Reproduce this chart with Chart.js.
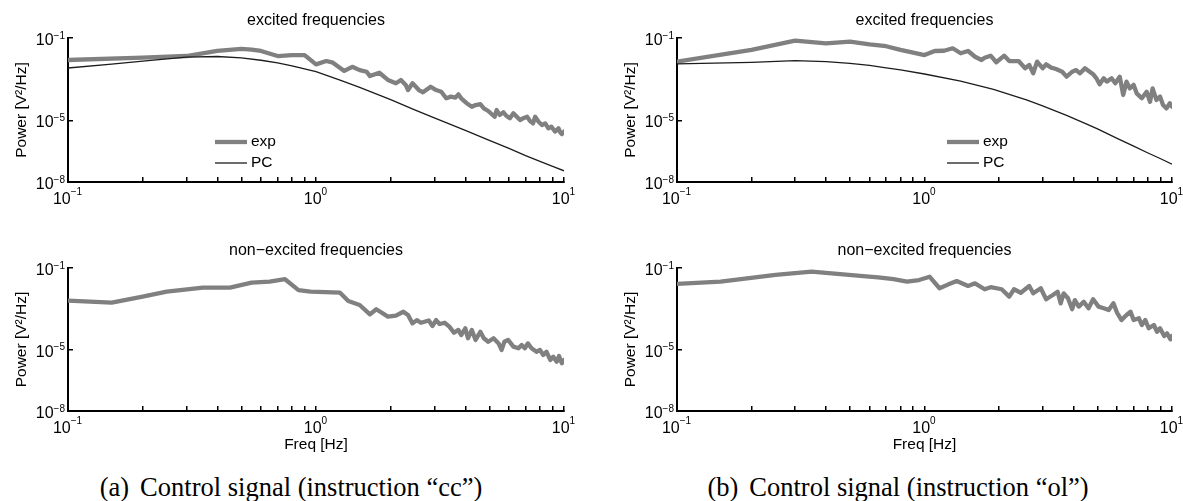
<!DOCTYPE html>
<html>
<head>
<meta charset="utf-8">
<script src="https://cdn.jsdelivr.net/npm/chart.js@4.4.1/dist/chart.umd.min.js"></script>
<style>
  body { margin: 0; background: #fff; width: 1183px; height: 501px; position: relative; overflow: hidden; }
  canvas { position: absolute; }
  .cap { position: absolute; top: 472px; line-height: 25px; font: 26.5px "Liberation Serif", "Times New Roman", serif;
         white-space: nowrap; transform: translateX(-50%); color: #000; }
  .cap b { font-weight: normal; margin-right: 11px; }
</style>
</head>
<body>
<canvas id="ccExc" width="590" height="230" style="left:0;top:0"></canvas>
<canvas id="olExc" width="593" height="230" style="left:590px;top:0"></canvas>
<canvas id="ccNon" width="590" height="230" style="left:0;top:230px"></canvas>
<canvas id="olNon" width="593" height="230" style="left:590px;top:230px"></canvas>
<div class="cap" style="left:291px"><b>(a)</b>Control signal (instruction “cc”)</div>
<div class="cap" style="left:898px"><b>(b)</b>Control signal (instruction “ol”)</div>

<script>
// axis ticks (only decades get a "10^n" label)
var FREQ_TICKS = [0.1, 0.2, 0.3, 0.4, 0.5, 0.6, 0.7, 0.8, 0.9, 1, 2, 3, 4, 5, 6, 7, 8, 9, 10];
var FREQ_DECADES = [0.1, 1, 10];
var POWER_TICKS = [1e-8, 1e-5, 1e-1];

// instruction "cc", excited frequencies: measured spectrum
var ccExcFreq = [0.1, 0.2, 0.3, 0.4, 0.5, 0.55, 0.6, 0.7, 0.8, 0.9,
  1.0, 1.1, 1.17, 1.3, 1.4, 1.5, 1.6, 1.65, 1.8, 1.95,
  2.1, 2.2, 2.3, 2.35, 2.45, 2.6, 2.7, 2.9, 3.05, 3.2,
  3.35, 3.5, 3.65, 3.75, 3.85, 4.05, 4.25, 4.4, 4.6, 4.75,
  4.95, 5.25, 5.35, 5.5, 5.7, 5.85, 6.05, 6.25, 6.45, 6.65,
  6.85, 7.1, 7.3, 7.5, 7.65, 7.9, 8.15, 8.4, 8.65, 8.9,
  9.2, 9.5, 9.65, 9.8, 10];
var ccExcPow = [8.5e-3, 1.12e-2, 1.33e-2, 2.34e-2, 2.95e-2, 2.75e-2, 2.34e-2, 1.33e-2, 1.48e-2, 1.48e-2,
  5.25e-3, 7.59e-3, 6.31e-3, 2.51e-3, 3.98e-3, 2.75e-3, 2.29e-3, 1.41e-3, 2.04e-3, 9.12e-4,
  6.31e-4, 9.12e-4, 5.25e-4, 2.95e-4, 6.31e-4, 2.95e-4, 2.29e-4, 4.27e-4, 2.95e-4, 2.45e-4,
  1.17e-4, 1.41e-4, 1.26e-4, 1.82e-4, 1.17e-4, 6.76e-5, 4.57e-5, 5.50e-5, 6.03e-5, 3.80e-5,
  2.82e-5, 1.48e-5, 3.16e-5, 1.82e-5, 2.45e-5, 1.66e-5, 1.26e-5, 2.19e-5, 1.48e-5, 1.02e-5,
  1.26e-5, 1.48e-5, 9.12e-6, 7.08e-6, 1.48e-5, 8.51e-6, 5.89e-6, 7.08e-6, 4.07e-6, 4.90e-6,
  2.82e-6, 4.07e-6, 2.63e-6, 2.14e-6, 2.82e-6];

// instruction "cc": PC model
var ccPcFreq = [0.1, 0.15, 0.2, 0.3, 0.4, 0.5, 0.6, 0.7, 0.8, 1, 1.25, 1.5, 2, 2.5, 3, 4, 5, 6, 7, 8, 9, 10];
var ccPcPow = [3.47e-3, 5.4e-3, 7.6e-3, 1.17e-2, 1.26e-2, 1.07e-2, 8.3e-3, 6.2e-3, 4.4e-3, 2.3e-3, 8.9e-4,
  4.0e-4, 1.0e-4, 3.2e-5, 1.3e-5, 3.2e-6, 1.05e-6, 4.3e-7, 1.9e-7, 1.0e-7, 5.8e-8, 3.5e-8];

// instruction "cc", non-excited frequencies
var ccNonFreq = [0.1, 0.15, 0.2, 0.25, 0.35, 0.45, 0.55, 0.65, 0.75, 0.85,
  0.95, 1.25, 1.35, 1.5, 1.65, 1.75, 1.95, 2.1, 2.25, 2.35,
  2.45, 2.55, 2.65, 2.85, 2.95, 3.05, 3.15, 3.3, 3.45, 3.6,
  3.75, 3.85, 4.0, 4.1, 4.25, 4.4, 4.6, 4.75, 4.95, 5.2,
  5.45, 5.6, 5.75, 5.95, 6.25, 6.55, 6.75, 6.95, 7.15, 7.4,
  7.75, 8.0, 8.25, 8.5, 8.8, 9.05, 9.35, 9.55, 9.8, 10];
var ccNonPow = [2.51e-3, 2.00e-3, 3.98e-3, 6.92e-3, 1.10e-2, 1.10e-2, 1.91e-2, 2.14e-2, 2.82e-2, 8.32e-3,
  6.92e-3, 6.17e-3, 2.40e-3, 1.55e-3, 5.37e-4, 9.55e-4, 4.17e-4, 4.68e-4, 7.24e-4, 5.01e-4,
  1.95e-4, 2.82e-4, 2.09e-4, 2.70e-4, 1.45e-4, 2.82e-4, 1.82e-4, 2.09e-4, 1.35e-4, 6.76e-5,
  9.33e-5, 5.25e-5, 1.12e-4, 3.63e-5, 9.33e-5, 3.02e-5, 7.59e-5, 3.63e-5, 2.45e-5, 3.63e-5,
  2.04e-5, 9.77e-6, 2.45e-5, 3.02e-5, 1.41e-5, 1.17e-5, 1.70e-5, 1.17e-5, 2.04e-5, 1.17e-5,
  7.94e-6, 9.77e-6, 5.50e-6, 7.94e-6, 3.16e-6, 4.57e-6, 2.57e-6, 4.90e-6, 2.19e-6, 3.16e-6];

// instruction "ol", excited frequencies: measured spectrum
var olExcFreq = [0.1, 0.2, 0.3, 0.4, 0.5, 0.6, 0.7, 0.8, 0.9, 1.0,
  1.1, 1.2, 1.3, 1.4, 1.5, 1.6, 1.7, 1.75, 1.85, 1.95,
  2.1, 2.2, 2.4, 2.55, 2.65, 2.75, 2.85, 3.0, 3.1, 3.25,
  3.4, 3.6, 3.75, 3.95, 4.1, 4.25, 4.45, 4.65, 4.8, 4.95,
  5.1, 5.3, 5.45, 5.7, 5.9, 6.15, 6.35, 6.55, 6.75, 7.0,
  7.2, 7.55, 7.9, 8.15, 8.35, 8.65, 8.95, 9.2, 9.5, 9.8, 10];
var olExcPow = [7.08e-3, 2.63e-2, 7.41e-2, 5.50e-2, 6.61e-2, 4.90e-2, 3.98e-2, 2.63e-2, 1.95e-2, 1.48e-2,
  2.34e-2, 2.40e-2, 3.16e-2, 1.82e-2, 2.34e-2, 1.23e-2, 8.51e-3, 1.10e-2, 1.38e-2, 6.61e-3,
  1.38e-2, 7.59e-3, 7.59e-3, 3.39e-3, 4.90e-3, 1.91e-3, 7.08e-3, 3.39e-3, 5.25e-3, 3.63e-3,
  3.09e-3, 2.29e-3, 1.32e-3, 2.29e-3, 2.75e-3, 1.91e-3, 3.39e-3, 2.29e-3, 1.74e-3, 1.10e-3,
  5.62e-4, 1.10e-3, 7.59e-4, 1.10e-3, 6.31e-4, 1.32e-3, 1.70e-4, 7.59e-4, 3.55e-4, 5.25e-4,
  2.04e-4, 1.17e-4, 2.45e-4, 7.94e-5, 3.55e-4, 9.77e-5, 1.41e-4, 5.50e-5, 3.80e-5, 6.76e-5, 4.57e-5];

// instruction "ol": PC model
var olPcFreq = [0.1, 0.2, 0.3, 0.4, 0.5, 0.6, 0.7, 0.8, 1.0, 1.4, 1.9, 2.6, 3.0, 3.75, 4.5, 5, 6, 7, 8, 9, 10];
var olPcPow = [5.50e-3, 6.5e-3, 7.94e-3, 7.08e-3, 5.89e-3, 4.68e-3, 3.55e-3, 2.82e-3, 1.78e-3, 7.94e-4,
  3.16e-4, 9.55e-5, 5.01e-5, 1.74e-5, 6.76e-6, 3.80e-6, 1.32e-6, 5.50e-7, 2.57e-7, 1.35e-7, 7.41e-8];

// instruction "ol", non-excited frequencies
var olNonFreq = [0.1, 0.15, 0.25, 0.35, 0.55, 0.65, 0.75, 0.85, 0.95, 1.05,
  1.15, 1.25, 1.35, 1.5, 1.6, 1.75, 1.85, 2.05, 2.2, 2.3,
  2.45, 2.65, 2.75, 2.95, 3.1, 3.3, 3.45, 3.55, 3.65, 3.8,
  3.95, 4.05, 4.2, 4.4, 4.6, 4.8, 5.05, 5.3, 5.55, 5.8,
  6.0, 6.25, 6.55, 6.8, 7.0, 7.35, 7.55, 7.8, 8.05, 8.45,
  8.7, 8.95, 9.3, 9.55, 9.85, 10];
var olNonPow = [1.66e-2, 2.14e-2, 4.57e-2, 6.61e-2, 4.07e-2, 3.47e-2, 2.82e-2, 2.14e-2, 2.57e-2, 3.72e-2,
  1.02e-2, 1.58e-2, 2.29e-2, 1.32e-2, 1.78e-2, 9.12e-3, 1.15e-2, 9.12e-3, 3.98e-3, 9.12e-3,
  6.17e-3, 1.32e-2, 5.75e-3, 1.02e-2, 2.95e-3, 4.79e-3, 6.92e-3, 1.86e-3, 5.75e-3, 3.31e-3,
  9.55e-4, 2.69e-3, 1.29e-3, 2.24e-3, 1.07e-3, 2.95e-3, 1.29e-3, 1.07e-3, 8.71e-4, 1.86e-3,
  6.46e-4, 2.82e-4, 5.01e-4, 7.24e-4, 2.82e-4, 3.47e-4, 1.62e-4, 2.82e-4, 1.12e-4, 1.62e-4,
  7.59e-5, 1.12e-4, 4.68e-5, 6.31e-5, 3.24e-5, 4.68e-5];

var FONT = '"Liberation Sans", Arial, Helvetica, sans-serif';
Chart.defaults.font.family = FONT;
Chart.defaults.font.size = 15;
Chart.defaults.color = '#000';

function pairs(xs, ys) {
    return xs.map(function (x, i) { return { x: x, y: ys[i] }; });
}

function expSet(xs, ys) {
    return { label: 'exp', data: pairs(xs, ys), borderColor: '#808080', borderWidth: 4.3,
             pointRadius: 0, tension: 0, borderJoinStyle: 'round', borderCapStyle: 'round', order: 1 };
}

function pcSet(xs, ys) {
    return { label: 'PC', data: pairs(xs, ys), borderColor: '#1c1c1c', borderWidth: 1.3,
             pointRadius: 0, tension: 0, order: 0 };
}

function expText(v) {
    var n = Math.round(Math.log10(v));
    return n < 0 ? '−' + (-n) : String(n);
}

// "10" with a raised exponent; (x, base) is the left end and the digit baseline
function powLabel(ctx, v, x, base, supBase) {
    ctx.font = '16px ' + FONT;
    ctx.fillText('10', x, base);
    var w = ctx.measureText('10').width;
    ctx.font = '10px ' + FONT;
    ctx.fillText(expText(v), x + w, supBase);
}

function powWidth(ctx, v) {
    ctx.font = '16px ' + FONT;
    var w = ctx.measureText('10').width;
    ctx.font = '10px ' + FONT;
    return w + ctx.measureText(expText(v)).width;
}

// tick labels, titles, axis labels and the small in-plot legend
var decor = {
    id: 'decor',
    afterDraw: function (chart, args, o) {
        var ctx = chart.ctx, a = chart.chartArea;
        var xs = chart.scales.x, ys = chart.scales.y;
        var cx = (a.left + a.right) / 2;
        ctx.save();
        ctx.fillStyle = '#000';
        ctx.textAlign = 'left';
        ctx.textBaseline = 'alphabetic';
        FREQ_DECADES.forEach(function (v) {
            var px = xs.getPixelForValue(v);
            var w = powWidth(ctx, v);
            powLabel(ctx, v, px - w / 2 - 0.5, a.bottom + 21.5, a.bottom + 13);
        });
        POWER_TICKS.forEach(function (v) {
            var py = ys.getPixelForValue(v);
            var w = powWidth(ctx, v);
            powLabel(ctx, v, a.left - 3 - w, py + 7, py + 0.5);
        });

        ctx.textAlign = 'center';
        ctx.textBaseline = 'middle';
        ctx.font = '16px ' + FONT;
        ctx.fillText(o.title, cx, a.top - 17);
        ctx.font = '15.5px ' + FONT;
        if (o.xlabel) ctx.fillText(o.xlabel, cx, a.bottom + 34);
        ctx.save();
        ctx.translate(a.left - 46, (a.top + a.bottom) / 2);
        ctx.rotate(-Math.PI / 2);
        ctx.fillText('Power [V²/Hz]', 0, 0);
        ctx.restore();

        if (o.legendX) {
            ctx.textAlign = 'left';
            chart.data.datasets.forEach(function (ds, i) {
                var y = a.top + 104 + i * 21;
                ctx.strokeStyle = ds.borderColor;
                ctx.lineWidth = ds.borderWidth;
                ctx.beginPath();
                ctx.moveTo(o.legendX, y);
                ctx.lineTo(o.legendX + 32, y);
                ctx.stroke();
                ctx.fillText(ds.label, o.legendX + 36, y);
            });
        }
        ctx.restore();
    }
};

function makeChart(id, datasets, opts) {
    new Chart(document.getElementById(id), {
        type: 'line',
        data: { datasets: datasets },
        plugins: [decor],
        options: {
            responsive: false,
            animation: false,
            devicePixelRatio: 1,
            layout: { padding: { top: 38, right: opts.padRight, left: 0, bottom: 0 } },
            plugins: {
                legend: { display: false },
                tooltip: { enabled: false },
                decor: { title: opts.title, xlabel: opts.xlabel, legendX: opts.legendX }
            },
            scales: {
                x: {
                    type: 'logarithmic', min: 0.1, max: 10,
                    afterBuildTicks: function (s) { s.ticks = FREQ_TICKS.map(function (v) { return { value: v }; }); },
                    afterFit: function (s) { s.height = opts.xHeight; s.paddingLeft = 0; s.paddingRight = 0; },
                    border: { display: true, color: '#000', width: 2 },
                    grid: { drawOnChartArea: false, drawTicks: true, tickLength: -5, color: '#000', lineWidth: 1.5 },
                    ticks: { display: false, autoSkip: false }
                },
                y: {
                    type: 'logarithmic', min: 1e-8, max: 1e-1,
                    afterBuildTicks: function (s) { s.ticks = POWER_TICKS.map(function (v) { return { value: v }; }); },
                    afterFit: function (s) { s.width = opts.yWidth; s.paddingTop = 0; s.paddingBottom = 0; },
                    border: { display: true, color: '#000', width: 2 },
                    grid: { drawOnChartArea: false, drawTicks: true, tickLength: -5, color: '#000', lineWidth: 1.5 },
                    ticks: { display: false, autoSkip: false }
                }
            }
        }
    });
}

makeChart('ccExc', [expSet(ccExcFreq, ccExcPow), pcSet(ccPcFreq, ccPcPow)],
    { title: 'excited frequencies', padRight: 26, yWidth: 68, xHeight: 48, legendX: 215 });
makeChart('olExc', [expSet(olExcFreq, olExcPow), pcSet(olPcFreq, olPcPow)],
    { title: 'excited frequencies', padRight: 11, yWidth: 87, xHeight: 48, legendX: 357 });
makeChart('ccNon', [expSet(ccNonFreq, ccNonPow)],
    { title: 'non−excited frequencies', xlabel: 'Freq [Hz]', padRight: 26, yWidth: 68, xHeight: 49 });
makeChart('olNon', [expSet(olNonFreq, olNonPow)],
    { title: 'non−excited frequencies', xlabel: 'Freq [Hz]', padRight: 11, yWidth: 87, xHeight: 49 });
</script>
</body>
</html>
